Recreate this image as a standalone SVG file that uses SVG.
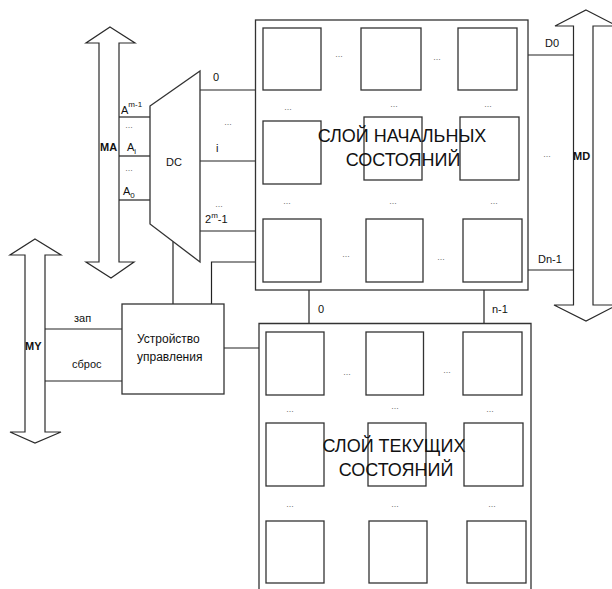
<svg xmlns="http://www.w3.org/2000/svg" width="612" height="589" viewBox="0 0 612 589">
<style>
.ln{stroke:#222;stroke-width:1.2;fill:none}
.bx{stroke:#333;stroke-width:1.3;fill:#fff}
.cell{stroke:#333;stroke-width:1.3;fill:none}
.arr{stroke:#2a2a2a;stroke-width:1.2;fill:#fff;stroke-linejoin:miter}
text{font-family:"Liberation Sans",Arial,sans-serif;fill:#111}
.s{font-size:11px}
.b{font-size:11px;font-weight:bold}
.d{font-size:9px;fill:#777;text-anchor:middle}
.t{font-size:18px;text-anchor:middle}
.u{font-size:12px}
</style>
<rect width="612" height="589" fill="#fff"/>

<g id="bus-MA">
<polygon class="arr" points="110,27 135,43 119,43 119,262 134,262 111,278 86,262 99,262 99,43 86,43"/>
<text class="b" x="100" y="151">MA</text>
</g>
<g id="bus-MY">
<polygon class="arr" points="35,239 61,255 45,255 45,432 61,432 35,443 10,432 25,432 25,255 10,255"/>
<text class="b" x="25" y="350">MY</text>
</g>
<g id="bus-MD">
<polygon class="arr" points="586,10 617,26 593,26 593,305 617,305 586,321 554,305 573.5,305 573.5,26 555,26"/>
<text class="b" x="573" y="160">MD</text>
</g>

<g id="connectors">
<line class="ln" x1="119" y1="117" x2="150" y2="117"/>
<line class="ln" x1="119" y1="156" x2="150" y2="156"/>
<line class="ln" x1="119" y1="200" x2="150" y2="200"/>
<line class="ln" x1="200" y1="90" x2="256" y2="90"/>
<line class="ln" x1="200" y1="161" x2="256" y2="161"/>
<line class="ln" x1="200" y1="231" x2="256" y2="231"/>
<line class="ln" x1="528" y1="55" x2="573.5" y2="55"/>
<line class="ln" x1="528" y1="270" x2="573.5" y2="270"/>
<line class="ln" x1="309" y1="290" x2="309" y2="323"/>
<line class="ln" x1="484" y1="290" x2="484" y2="323"/>
<line class="ln" x1="45" y1="329" x2="122" y2="329"/>
<line class="ln" x1="45" y1="381" x2="122" y2="381"/>
<line class="ln" x1="224" y1="348" x2="259" y2="348"/>
<line class="ln" x1="173" y1="241.5" x2="173" y2="304"/>
<polyline class="ln" points="211.5,304 211.5,262 256,262"/>
</g>

<g id="labels">
<text class="s" x="121" y="114">A<tspan font-size="8" dy="-7">m-1</tspan></text>
<text class="d" x="129" y="128">...</text>
<text class="s" x="127" y="151">A<tspan font-size="8" dy="3">i</tspan></text>
<text class="d" x="129" y="171">...</text>
<text class="s" x="123" y="195">A<tspan font-size="8" dy="3">0</tspan></text>
<text class="s" x="213" y="81">0</text>
<text class="d" x="228" y="125">...</text>
<text class="s" x="216" y="152">i</text>
<text class="d" x="219" y="207">...</text>
<text class="s" x="205" y="223">2<tspan font-size="8" dy="-5">m</tspan><tspan dy="5">-1</tspan></text>
<text class="s" x="545" y="47">D0</text>
<text class="s" x="538" y="263">Dn-1</text>
<text class="d" x="547" y="157">...</text>
<text class="s" x="318" y="313">0</text>
<text class="s" x="492" y="313">n-1</text>
<text class="s" x="74" y="322">зап</text>
<text class="s" x="72" y="368">сброс</text>
</g>

<g id="DC">
<polygon class="bx" points="150,106 200,71 200,262 150,224"/>
<text class="s" x="166" y="166" font-size="12">DC</text>
</g>

<g id="control-unit">
<rect class="bx" x="122" y="304" width="102" height="90"/>
<text class="u" x="137" y="343">Устройство</text>
<text class="u" x="137" y="361">управления</text>
</g>

<g id="layer-initial">
<rect class="bx" x="255.5" y="20" width="272.5" height="270"/>
<rect class="cell" x="263" y="28" width="58" height="62"/>
<rect class="cell" x="361" y="28" width="60" height="62"/>
<rect class="cell" x="458" y="28" width="59" height="62"/>
<rect class="cell" x="263" y="121" width="58" height="63"/>
<rect class="cell" x="364" y="117" width="58" height="63"/>
<rect class="cell" x="460" y="117" width="59" height="63"/>
<rect class="cell" x="263" y="219" width="58" height="63"/>
<rect class="cell" x="366" y="219" width="57" height="63"/>
<rect class="cell" x="463" y="219" width="59" height="63"/>
<text class="d" x="339" y="57">...</text>
<text class="d" x="437" y="60">...</text>
<text class="d" x="288" y="110">...</text>
<text class="d" x="394" y="107">...</text>
<text class="d" x="488" y="107">...</text>
<text class="d" x="287" y="204">...</text>
<text class="d" x="393" y="204">...</text>
<text class="d" x="494" y="204">...</text>
<text class="d" x="346" y="257">...</text>
<text class="d" x="441" y="260">...</text>
<text class="t" x="402" y="141.5">СЛОЙ НАЧАЛЬНЫХ</text>
<text class="t" x="403" y="165.5">СОСТОЯНИЙ</text>
</g>

<g id="layer-current">
<polyline class="bx" points="259,589 259,323.5 531,323.5 531,589"/>
<rect class="cell" x="266" y="332" width="58" height="63"/>
<rect class="cell" x="366" y="332" width="57.5" height="63"/>
<rect class="cell" x="463" y="332" width="59" height="63"/>
<rect class="cell" x="266" y="423" width="58" height="63"/>
<rect class="cell" x="368" y="423" width="58" height="63"/>
<rect class="cell" x="464" y="423" width="59" height="63"/>
<rect class="cell" x="266" y="521" width="58" height="62"/>
<rect class="cell" x="369" y="521" width="58" height="62"/>
<rect class="cell" x="467" y="521" width="59" height="62"/>
<text class="d" x="347" y="375">...</text>
<text class="d" x="447" y="373">...</text>
<text class="d" x="290" y="412">...</text>
<text class="d" x="395" y="409">...</text>
<text class="d" x="490" y="412">...</text>
<text class="d" x="290" y="507">...</text>
<text class="d" x="395" y="507">...</text>
<text class="d" x="492" y="507">...</text>
<text class="t" x="394" y="451.5">СЛОЙ ТЕКУЩИХ</text>
<text class="t" x="396" y="475.5">СОСТОЯНИЙ</text>
</g>
</svg>
